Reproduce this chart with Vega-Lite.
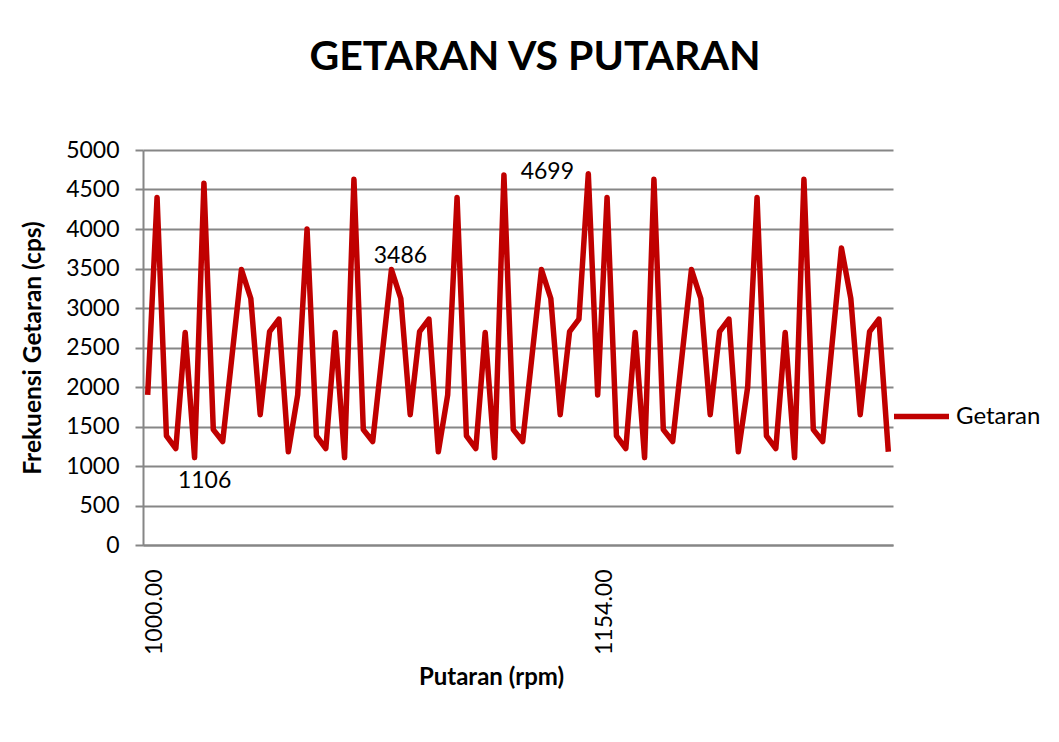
{
  "$schema": "https://vega.github.io/schema/vega-lite/v6.json",
  "width": 750,
  "height": 395,
  "autosize": {"type": "none"},
  "padding": {"left": 143, "top": 150, "right": 166, "bottom": 197},
  "background": "white",
  "title": {"text": "GETARAN VS PUTARAN", "font": "Lato", "fontSize": 41, "fontWeight": "bold", "color": "#000000", "anchor": "middle", "offset": 60, "dx": 17},
  "data": {"values": [
    {"i":0,"s":"Getaran","v":1900},{"i":1,"s":"Getaran","v":4400},{"i":2,"s":"Getaran","v":1380},{"i":3,"s":"Getaran","v":1220},
    {"i":4,"s":"Getaran","v":2690},{"i":5,"s":"Getaran","v":1106},{"i":6,"s":"Getaran","v":4580},{"i":7,"s":"Getaran","v":1460},
    {"i":8,"s":"Getaran","v":1310},{"i":9,"s":"Getaran","v":2400},{"i":10,"s":"Getaran","v":3486},{"i":11,"s":"Getaran","v":3120},
    {"i":12,"s":"Getaran","v":1650},{"i":13,"s":"Getaran","v":2700},{"i":14,"s":"Getaran","v":2860},{"i":15,"s":"Getaran","v":1180},
    {"i":16,"s":"Getaran","v":1900},{"i":17,"s":"Getaran","v":4000},{"i":18,"s":"Getaran","v":1380},{"i":19,"s":"Getaran","v":1220},
    {"i":20,"s":"Getaran","v":2690},{"i":21,"s":"Getaran","v":1106},{"i":22,"s":"Getaran","v":4630},{"i":23,"s":"Getaran","v":1460},
    {"i":24,"s":"Getaran","v":1310},{"i":25,"s":"Getaran","v":2400},{"i":26,"s":"Getaran","v":3486},{"i":27,"s":"Getaran","v":3120},
    {"i":28,"s":"Getaran","v":1650},{"i":29,"s":"Getaran","v":2700},{"i":30,"s":"Getaran","v":2860},{"i":31,"s":"Getaran","v":1180},
    {"i":32,"s":"Getaran","v":1900},{"i":33,"s":"Getaran","v":4400},{"i":34,"s":"Getaran","v":1380},{"i":35,"s":"Getaran","v":1220},
    {"i":36,"s":"Getaran","v":2690},{"i":37,"s":"Getaran","v":1106},{"i":38,"s":"Getaran","v":4685},{"i":39,"s":"Getaran","v":1460},
    {"i":40,"s":"Getaran","v":1310},{"i":41,"s":"Getaran","v":2400},{"i":42,"s":"Getaran","v":3486},{"i":43,"s":"Getaran","v":3120},
    {"i":44,"s":"Getaran","v":1650},{"i":45,"s":"Getaran","v":2700},{"i":46,"s":"Getaran","v":2860},{"i":47,"s":"Getaran","v":4699},
    {"i":48,"s":"Getaran","v":1900},{"i":49,"s":"Getaran","v":4400},{"i":50,"s":"Getaran","v":1380},{"i":51,"s":"Getaran","v":1220},
    {"i":52,"s":"Getaran","v":2690},{"i":53,"s":"Getaran","v":1106},{"i":54,"s":"Getaran","v":4630},{"i":55,"s":"Getaran","v":1460},
    {"i":56,"s":"Getaran","v":1310},{"i":57,"s":"Getaran","v":2400},{"i":58,"s":"Getaran","v":3486},{"i":59,"s":"Getaran","v":3120},
    {"i":60,"s":"Getaran","v":1650},{"i":61,"s":"Getaran","v":2700},{"i":62,"s":"Getaran","v":2860},{"i":63,"s":"Getaran","v":1180},
    {"i":64,"s":"Getaran","v":2000},{"i":65,"s":"Getaran","v":4400},{"i":66,"s":"Getaran","v":1380},{"i":67,"s":"Getaran","v":1220},
    {"i":68,"s":"Getaran","v":2690},{"i":69,"s":"Getaran","v":1106},{"i":70,"s":"Getaran","v":4630},{"i":71,"s":"Getaran","v":1460},
    {"i":72,"s":"Getaran","v":1310},{"i":73,"s":"Getaran","v":2540},{"i":74,"s":"Getaran","v":3760},{"i":75,"s":"Getaran","v":3120},
    {"i":76,"s":"Getaran","v":1650},{"i":77,"s":"Getaran","v":2700},{"i":78,"s":"Getaran","v":2860},{"i":79,"s":"Getaran","v":1180}
  ]},
  "encoding": {
    "x": {
      "field": "i", "type": "ordinal",
      "scale": {"type": "point", "padding": 0.5},
      "axis": {
        "title": "Putaran (rpm)",
        "values": [0, 48],
        "labelExpr": "datum.value == 0 ? '1000.00' : '1154.00'",
        "labelAngle": -90, "labelOffset": 7, "labelPadding": 24, "labelOverlap": false,
        "ticks": false, "grid": false,
        "domainColor": "#868686", "domainWidth": 2,
        "labelFont": "Lato", "labelFontSize": 23, "labelColor": "#000000",
        "titleFont": "Lato", "titleFontSize": 24, "titleFontWeight": "bold", "titleColor": "#000000",
        "titleX": 348, "titleY": 132, "titleAlign": "center", "titleBaseline": "middle"
      }
    },
    "y": {
      "field": "v", "type": "quantitative",
      "scale": {"domain": [0, 5000], "nice": false},
      "axis": {
        "title": "Frekuensi Getaran (cps)",
        "values": [0, 500, 1000, 1500, 2000, 2500, 3000, 3500, 4000, 4500, 5000],
        "format": "d",
        "grid": true, "gridColor": "#868686", "gridWidth": 2,
        "tickSize": 8, "tickColor": "#868686", "tickWidth": 2,
        "domainColor": "#868686", "domainWidth": 2,
        "labelFont": "Lato", "labelFontSize": 23, "labelColor": "#000000", "labelPadding": 16,
        "titleFont": "Lato", "titleFontSize": 24.5, "titleFontWeight": "bold", "titleColor": "#000000",
        "titleX": -110, "titleY": 197.5, "titleAngle": -90, "titleAlign": "center", "titleBaseline": "middle"
      }
    }
  },
  "layer": [
    {
      "mark": {"type": "line", "strokeWidth": 5.5, "strokeJoin": "round"},
      "encoding": {
        "color": {
          "field": "s", "type": "nominal",
          "scale": {"range": ["#C00000"]},
          "legend": {
            "title": null, "orient": "none", "legendX": 748, "legendY": 236,
            "symbolType": "stroke", "symbolSize": 3025, "symbolStrokeWidth": 5.5,
            "labelFont": "Lato", "labelFontSize": 24, "labelColor": "#000000", "labelOffset": 4
          }
        }
      }
    },
    {
      "transform": [{"filter": "datum.i == 5"}],
      "mark": {"type": "text", "dx": 10, "dy": 23, "font": "Lato", "fontSize": 23, "color": "#000000"},
      "encoding": {"text": {"field": "v", "type": "quantitative"}}
    },
    {
      "transform": [{"filter": "datum.i == 26"}],
      "mark": {"type": "text", "dx": 9, "dy": -14, "font": "Lato", "fontSize": 23, "color": "#000000"},
      "encoding": {"text": {"field": "v", "type": "quantitative"}}
    },
    {
      "transform": [{"filter": "datum.i == 47"}],
      "mark": {"type": "text", "dx": -41, "dy": -2, "font": "Lato", "fontSize": 23, "color": "#000000"},
      "encoding": {"text": {"field": "v", "type": "quantitative"}}
    }
  ],
  "config": {"view": {"stroke": null}}
}
